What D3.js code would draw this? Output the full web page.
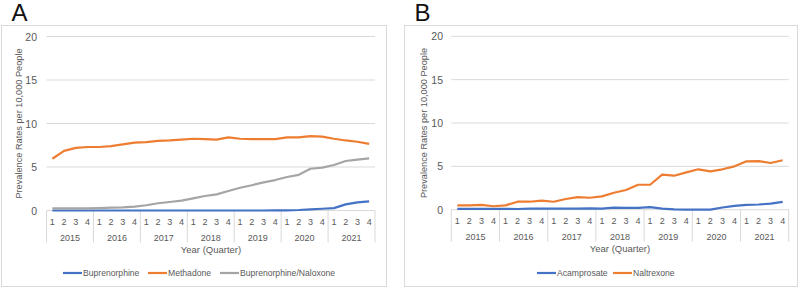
<!DOCTYPE html>
<html>
<head>
<meta charset="utf-8">
<script src="https://cdn.jsdelivr.net/npm/d3@7"></script>
<style>
  body { margin: 0; background: #fff; }
  svg { display: block; font-family: "Liberation Sans", Arial, sans-serif; }
  .okvir { fill: #fff; stroke: #d9d9d9; stroke-width: 1; }
  .mreza { stroke: #d9d9d9; stroke-width: 1; }
  .oznaka { fill: #595959; }
</style>
</head>
<body>
<div id="graf"></div>
<script>
// podaci
const godine = ["2015", "2016", "2017", "2018", "2019", "2020", "2021"]
const kvartali = ["1", "2", "3", "4"]
const yTickovi = [0, 5, 10, 15, 20]

const buprenorfin = [0, 0, 0, 0, 0, 0, 0, 0, 0, 0, 0, 0, 0, 0, 0, 0, 0, 0, 0, 0.01, 0.02, 0.06, 0.14, 0.2, 0.27, 0.7, 0.94, 1.05]
const metadon = [5.95, 6.85, 7.2, 7.3, 7.3, 7.4, 7.6, 7.8, 7.85, 8.0, 8.05, 8.15, 8.25, 8.2, 8.15, 8.4, 8.25, 8.2, 8.2, 8.2, 8.4, 8.4, 8.55, 8.5, 8.25, 8.05, 7.9, 7.65]
const buprenorfinNalokson = [0.25, 0.25, 0.25, 0.25, 0.28, 0.32, 0.35, 0.45, 0.6, 0.83, 0.98, 1.13, 1.4, 1.67, 1.86, 2.24, 2.62, 2.9, 3.24, 3.5, 3.85, 4.1, 4.8, 4.92, 5.23, 5.69, 5.84, 6.0]

const akamprosat = [0.1, 0.1, 0.1, 0.1, 0.1, 0.08, 0.12, 0.12, 0.12, 0.12, 0.12, 0.15, 0.12, 0.25, 0.2, 0.2, 0.3, 0.12, 0.03, 0.0, 0.0, 0.0, 0.25, 0.45, 0.55, 0.6, 0.7, 0.9]
const naltrekson = [0.5, 0.5, 0.55, 0.4, 0.5, 0.92, 0.92, 1.04, 0.92, 1.23, 1.46, 1.38, 1.54, 1.96, 2.27, 2.88, 2.88, 4.04, 3.92, 4.31, 4.66, 4.43, 4.66, 5.0, 5.58, 5.6, 5.39, 5.7]

const plava = "#4472c4", narancasta = "#ed7d31", siva = "#a5a5a5"

const kategorije = godine.flatMap(g => kvartali.map(k => g + "-" + k))

const paneli = [
  {
    slovo: "A", okvir: [1.5, 25.5, 385, 261], x: [46.5, 375], y: [210.5, 36.5],
    yNaslovX: 22, tickX: 37, osNaslovX: 211,
    serije: [
      { ime: "Buprenorphine", vrijednosti: buprenorfin, boja: plava },
      { ime: "Methadone", vrijednosti: metadon, boja: narancasta },
      { ime: "Buprenorphine/Naloxone", vrijednosti: buprenorfinNalokson, boja: siva },
    ],
    legenda: [63, 148, 220],
  },
  {
    slovo: "B", okvir: [404.5, 25.5, 393, 261], x: [451.3, 788.7], y: [209.7, 36.3],
    yNaslovX: 427, tickX: 443, osNaslovX: 620,
    serije: [
      { ime: "Acamprosate", vrijednosti: akamprosat, boja: plava },
      { ime: "Naltrexone", vrijednosti: naltrekson, boja: narancasta },
    ],
    legenda: [537, 613],
  },
]

const svg = d3.select("#graf").append("svg")
  .attr("width", 800)
  .attr("height", 288)

paneli.forEach(p => {
  const g = svg.append("g")

  g.append("rect").attr("class", "okvir")
    .attr("x", p.okvir[0]).attr("y", p.okvir[1])
    .attr("width", p.okvir[2]).attr("height", p.okvir[3])

  g.append("text")
    .attr("x", p.okvir[0] + 10).attr("y", 21)
    .attr("font-size", 24).attr("fill", "#111")
    .text(p.slovo)

  const x = d3.scaleBand().domain(kategorije).range(p.x)
  const y = d3.scaleLinear().domain([0, 20]).range(p.y)

  // mreza i y oznake
  g.selectAll(".mreza").data(yTickovi).join("line")
    .attr("class", "mreza")
    .attr("x1", p.x[0]).attr("x2", p.x[1])
    .attr("y1", d => y(d)).attr("y2", d => y(d))

  g.selectAll(".ytick").data(yTickovi).join("text")
    .attr("class", "oznaka ytick")
    .attr("x", p.tickX).attr("y", d => y(d) + 4)
    .attr("text-anchor", "end").attr("font-size", 10.5)
    .text(d => d)

  g.append("text").attr("class", "oznaka")
    .attr("transform", `translate(${p.yNaslovX},${(p.y[0] + p.y[1]) / 2}) rotate(-90)`)
    .attr("text-anchor", "middle").attr("font-size", 9.2)
    .text("Prevalence Rates per 10,000 People")

  // kategorijska os
  const granice = godine.map(gd => x(gd + "-1")).concat([p.x[1]])
  g.selectAll(".sep").data(granice).join("line")
    .attr("class", "mreza")
    .attr("x1", d => d).attr("x2", d => d)
    .attr("y1", p.y[0]).attr("y2", p.y[0] + 32)

  g.selectAll(".kv").data(kategorije).join("text")
    .attr("class", "oznaka")
    .attr("x", d => x(d) + x.bandwidth() / 2).attr("y", p.y[0] + 14)
    .attr("text-anchor", "middle").attr("font-size", 9)
    .text(d => d.split("-")[1])

  g.selectAll(".god").data(godine).join("text")
    .attr("class", "oznaka")
    .attr("x", d => x(d + "-1") + x.bandwidth() * 2).attr("y", p.y[0] + 30)
    .attr("text-anchor", "middle").attr("font-size", 9)
    .text(d => d)

  g.append("text").attr("class", "oznaka")
    .attr("x", p.osNaslovX).attr("y", p.y[0] + 42)
    .attr("text-anchor", "middle").attr("font-size", 9.5)
    .text("Year (Quarter)")

  // linije
  const linija = d3.line()
    .x((d, i) => x(kategorije[i]) + x.bandwidth() / 2)
    .y(d => y(d))

  p.serije.forEach(s => {
    g.append("path")
      .datum(s.vrijednosti)
      .attr("d", linija)
      .attr("fill", "none")
      .attr("stroke", s.boja)
      .attr("stroke-width", 2.2)
      .attr("stroke-linejoin", "round")
  })

  // legenda
  p.serije.forEach((s, i) => {
    const lx = p.legenda[i]
    g.append("line")
      .attr("x1", lx).attr("x2", lx + 19)
      .attr("y1", 273).attr("y2", 273)
      .attr("stroke", s.boja).attr("stroke-width", 2.2)
    g.append("text").attr("class", "oznaka")
      .attr("x", lx + 20).attr("y", 276)
      .attr("font-size", 8.6)
      .text(s.ime)
  })
})
</script>
</body>
</html>
